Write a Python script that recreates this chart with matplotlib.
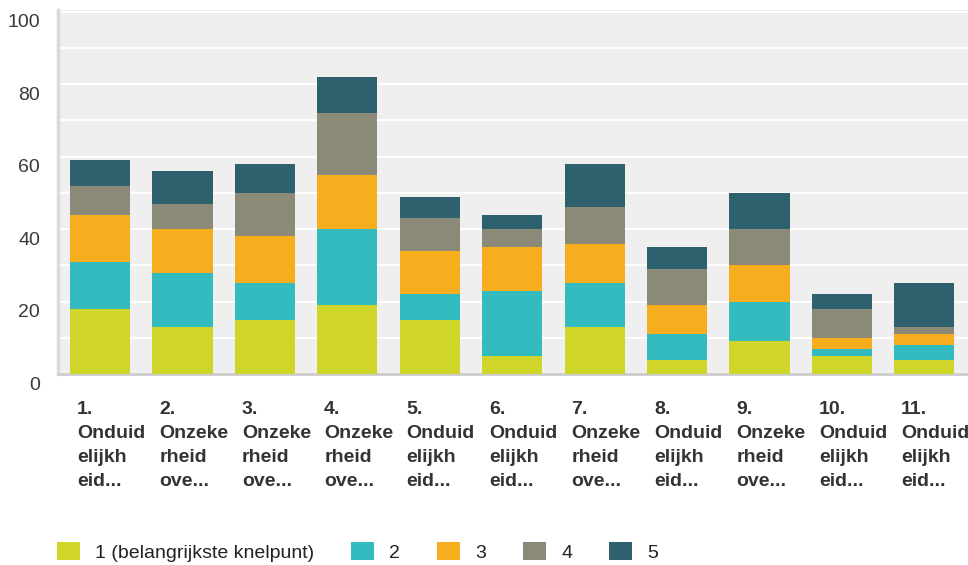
import numpy as np
import matplotlib
matplotlib.use('Agg')
import matplotlib.pyplot as plt
import matplotlib.transforms as mtransforms
from matplotlib.patches import Patch

plt.rcParams['font.family'] = ['Liberation Sans', 'DejaVu Sans']

# knelpunten (afgekorte labels) en aantallen per rangorde
categorieen = ['1.\nOnduid\nelijkh\neid...', '2.\nOnzeke\nrheid\nove...', '3.\nOnzeke\nrheid\nove...',
               '4.\nOnzeke\nrheid\nove...', '5.\nOnduid\nelijkh\neid...', '6.\nOnduid\nelijkh\neid...',
               '7.\nOnzeke\nrheid\nove...', '8.\nOnduid\nelijkh\neid...', '9.\nOnzeke\nrheid\nove...',
               '10.\nOnduid\nelijkh\neid...', '11.\nOnduid\nelijkh\neid...']

rang_1 = [18, 13, 15, 19, 15, 5, 13, 4, 9, 5, 4]
rang_2 = [13, 15, 10, 21, 7, 18, 12, 7, 11, 2, 4]
rang_3 = [13, 12, 13, 15, 12, 12, 11, 8, 10, 3, 3]
rang_4 = [8, 7, 12, 17, 9, 5, 10, 10, 10, 8, 2]
rang_5 = [7, 9, 8, 10, 6, 4, 12, 6, 10, 4, 12]

series = [rang_1, rang_2, rang_3, rang_4, rang_5]
legenda = ['1 (belangrijkste knelpunt)', '2', '3', '4', '5']
kleuren = ['#CFD529', '#33BBBF', '#F6AE1F', '#8B8A78', '#2F606D']

fig = plt.figure(figsize=(9.68, 5.65), dpi=100)
ax = fig.add_axes([58 / 968, 1 - 374 / 565, 1 - 58 / 968, 364 / 565])
ax.set_facecolor('#EFEFEF')

x = np.arange(len(categorieen))
bodem = np.zeros(len(categorieen))
for waarden, kleur in zip(series, kleuren):
    ax.bar(x, waarden, width=0.73, bottom=bodem, color=kleur, zorder=3)
    bodem += np.array(waarden)

ax.set_ylim(0, 100.5)
ax.set_xlim(-0.51, 10.53)
ax.set_yticks(np.arange(0, 101, 20))
ax.set_yticks(np.arange(0, 101, 10), minor=True)
ax.grid(axis='y', which='both', color='white', linewidth=1.6, zorder=1)
ax.tick_params(axis='y', which='both', length=0, pad=13, labelsize=14, labelcolor='#3A3A3A')
ax.set_xticks([])

# getallen op de y-as iets onder de rasterlijn
verschuiving = mtransforms.ScaledTranslation(0, -9 / 100, fig.dpi_scale_trans)
for lbl in ax.get_yticklabels():
    lbl.set_transform(lbl.get_transform() + verschuiving)

for kant in ['top', 'right']:
    ax.spines[kant].set_visible(False)
ax.spines['left'].set_color('#D9D9D9')
ax.spines['left'].set_linewidth(2.5)
ax.spines['bottom'].set_color('#CCCCCC')
ax.spines['bottom'].set_linewidth(2)

# categorie-labels links uitgelijnd onder de staven
for i, tekst in enumerate(categorieen):
    ax.text(i - 0.28, -0.075, tekst, transform=ax.get_xaxis_transform(),
            ha='left', va='top', fontsize=14, fontweight='bold', color='#333333',
            linespacing=1.52, clip_on=False)

handles = [Patch(facecolor=k, edgecolor='none') for k in kleuren]
fig.legend(handles, legenda, loc='center left', bbox_to_anchor=(57 / 968, 13 / 565),
           ncol=5, frameon=False, fontsize=14, handlelength=1.19, handleheight=0.98,
           handletextpad=0.77, columnspacing=1.9, borderpad=0, borderaxespad=0,
           labelcolor='#222222')

fig.savefig('out.png', dpi=100)
